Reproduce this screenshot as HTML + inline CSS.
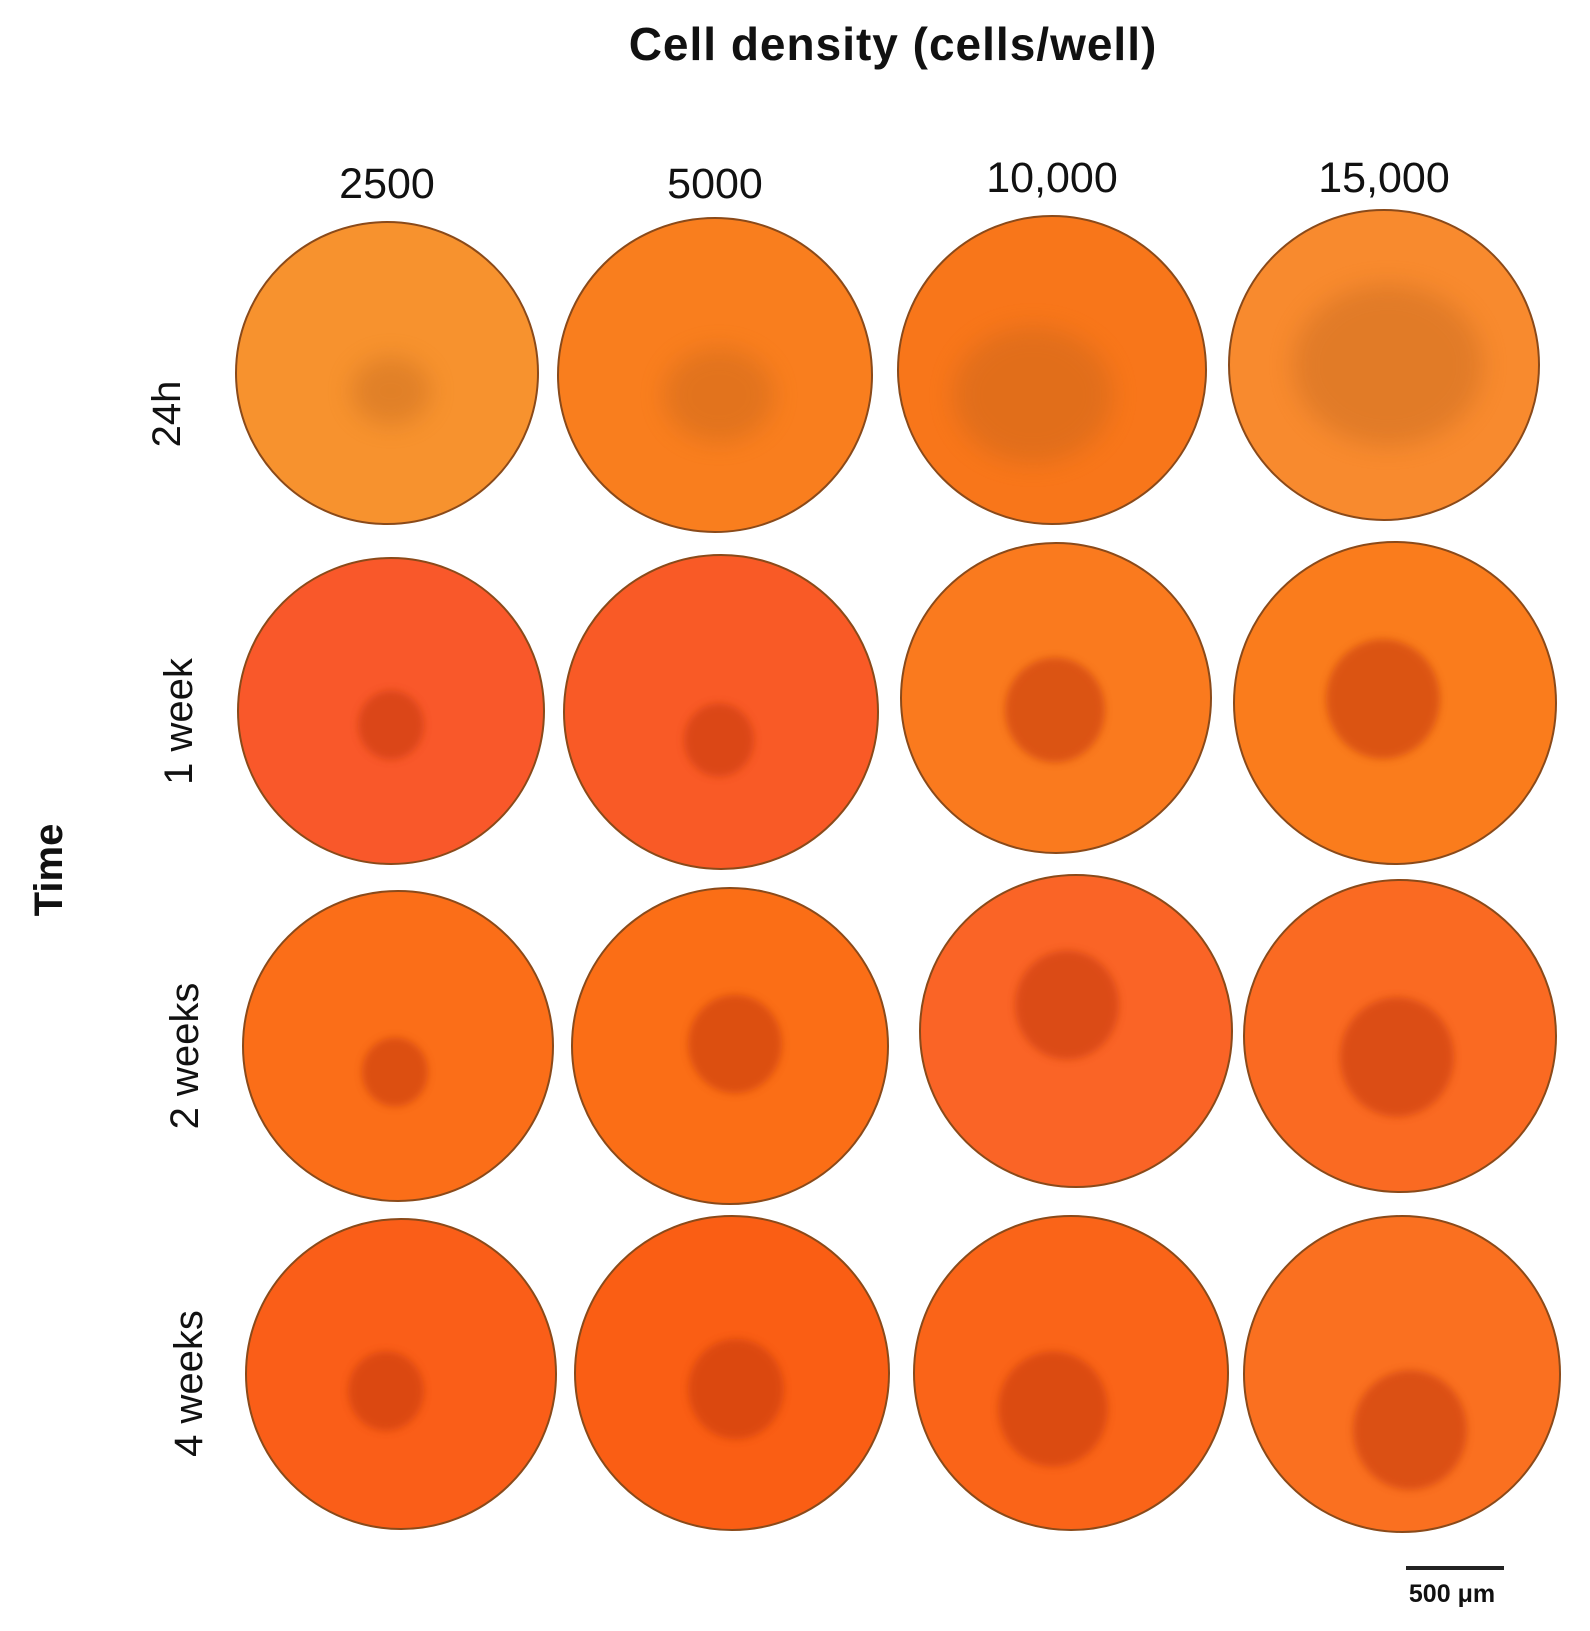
<!DOCTYPE html>
<html><head><meta charset="utf-8"><style>
html,body{margin:0;padding:0;background:#fff;}
svg{display:block;}
text{font-family:"Liberation Sans",Arial,sans-serif;fill:#111;}
</style></head><body>
<svg id="fig" width="1590" height="1631" viewBox="0 0 1590 1631" xmlns="http://www.w3.org/2000/svg">
<defs>
<filter id="blur" x="-50%" y="-50%" width="200%" height="200%"><feGaussianBlur stdDeviation="4"/></filter>
<filter id="blur2" x="-50%" y="-50%" width="200%" height="200%"><feGaussianBlur stdDeviation="12"/></filter>
</defs>
<text x="893" y="60" font-size="46" font-weight="bold" letter-spacing="1" text-anchor="middle">Cell density (cells/well)</text>
<text transform="translate(62,870) rotate(-90)" font-size="40" font-weight="bold" text-anchor="middle">Time</text>
<g id="wells"></g>
<g id="labels"></g>
<line x1="1406" y1="1568" x2="1504" y2="1568" stroke="#222" stroke-width="4"/>
<text x="1452" y="1602" font-size="25" font-weight="bold" text-anchor="middle">500 μm</text>
</svg>
<script>
const densities = ["2500","5000","10,000","15,000"];
const timepoints = ["24h","1 week","2 weeks","4 weeks"];
const wellCx = [[387,715,1052,1384],[391,721,1056,1395],[398,730,1076,1400],[401,732,1071,1402]];
const wellCy = [[373,375,370,365],[711,712,698,703],[1046,1046,1031,1036],[1374,1373,1373,1374]];
const wellR = [[151,157,154,155],[153,157,155,161],[155,158,156,156],[155,157,157,158]];
const wellColor = [["#f7922e","#f97e1e","#f8761a","#f88a2e"],["#f9582a","#f95a26","#fa7a1e","#fa7c1c"],["#fb6e18","#fb6e16","#fa6426","#fa6a22"],["#fa5e18","#fa5e14","#fa6418","#fa7020"]];
const sphX = [[391,719,1033,1388],[391,719,1055,1383],[395,735,1067,1397],[386,736,1053,1410]];
const sphY = [[391,395,395,365],[725,740,710,699],[1072,1044,1005,1057],[1391,1389,1409,1430]];
const sphR = [[40,55,80,95],[33,35,50,57],[33,47,52,57],[38,48,55,57]];
const NS="http://www.w3.org/2000/svg";
const wells=document.getElementById('wells');
const labels=document.getElementById('labels');
function mk(tag,attrs){const e=document.createElementNS(NS,tag);for(const k in attrs)e.setAttribute(k,attrs[k]);return e;}
for(let r=0;r<4;r++){
  for(let c=0;c<4;c++){
    const g=mk('g',{});
    
    
    const w=mk('circle',{cx:wellCx[r][c],cy:wellCy[r][c],r:wellR[r][c],fill:wellColor[r][c],stroke:'#8a4a1a','stroke-width':2});
    
    
    g.appendChild(w);
    const s=mk('ellipse',{cx:sphX[r][c],cy:sphY[r][c],rx:sphR[r][c],ry:sphR[r][c]*(r===0?0.85:1.05),
      fill:r===0?'#b8601c':'#c83a0c',opacity:r===0?0.35:0.6,filter:r===0?'url(#blur2)':'url(#blur)'});
    
    
    g.appendChild(s);
    wells.appendChild(g);
  }
}
for(let c=0;c<4;c++){
  const t=mk('text',{x:wellCx[0][c],y:c<2?198:192,'font-size':43,'text-anchor':'middle'});
  
  
  t.textContent=densities[c];labels.appendChild(t);
}
const rowLx=[180,192,198,202];
for(let r=0;r<4;r++){
  const y=(wellCy[r][0]+wellCy[r][1])/2+(r===0?40:10);
  const t=mk('text',{transform:'translate('+rowLx[r]+','+y+') rotate(-90)','font-size':40,'text-anchor':'middle'});
  
  
  t.textContent=timepoints[r];labels.appendChild(t);
}
</script>
</body></html>
